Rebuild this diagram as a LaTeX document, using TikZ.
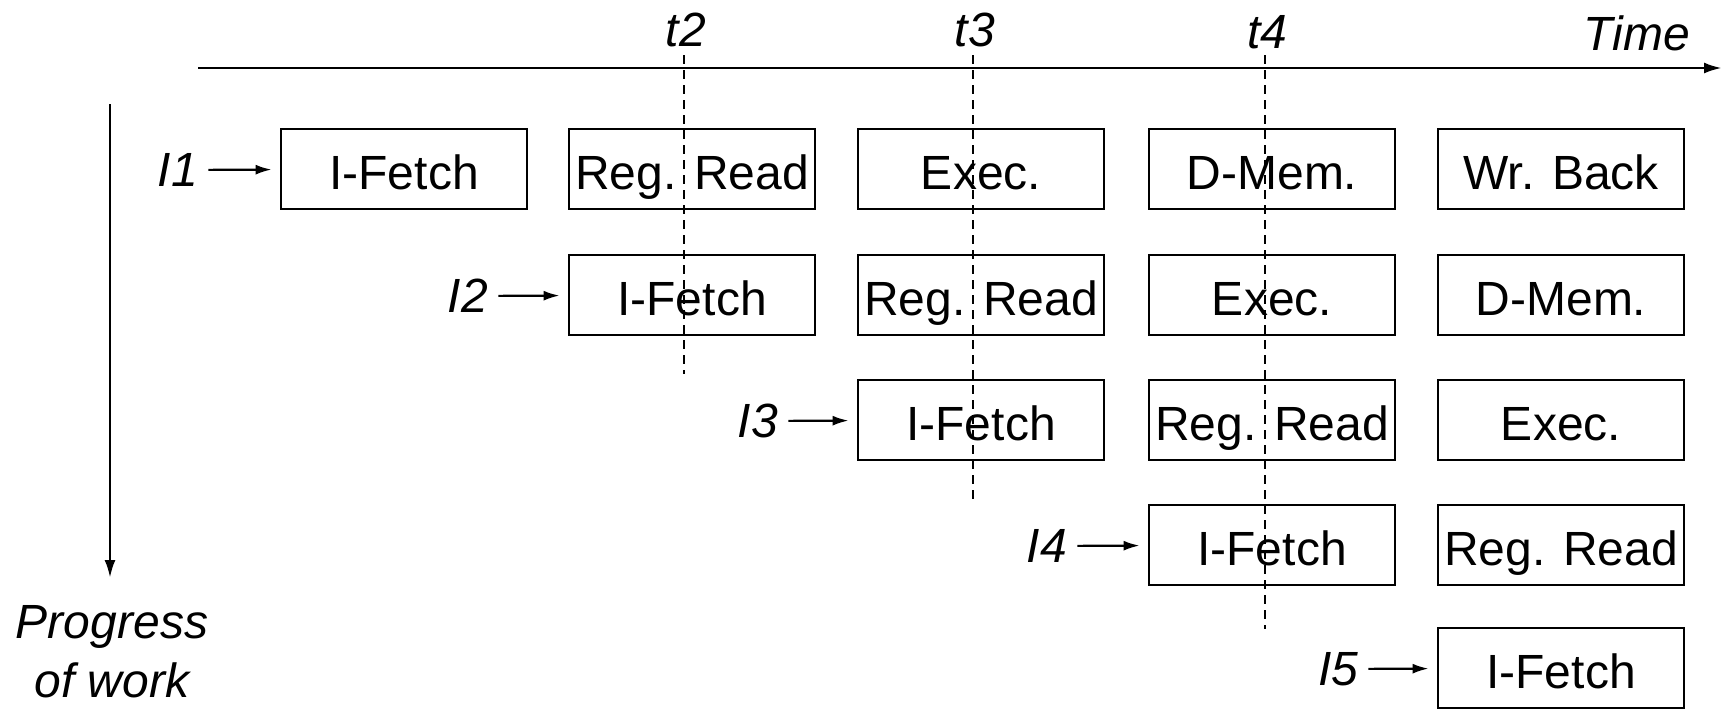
\documentclass[tikz,border=0pt]{standalone}
\usepackage{fontspec}
\setmainfont{Liberation Sans}
\usetikzlibrary{arrows.meta,calc}
\begin{document}
\begin{tikzpicture}[x=0.5pt,y=-0.5pt,
  stage/.style={draw, line width=1.4pt, minimum width=123pt, minimum height=40pt, inner sep=0pt, text height=20.4pt, text depth=0pt, font=\fontsize{24}{28}\selectfont},
  lbl/.style={font=\fontsize{24}{29.5}\selectfont\itshape, inner sep=0pt},
  tline/.style={dash pattern=on 4.5pt off 3pt, line width=1pt},
  axisline/.style={line width=1.4pt, -{Latex[length=9pt,width=5.5pt]}},
  feed/.style={line width=1.1pt, -{Latex[length=8pt,width=5pt]}, shorten <=5pt, shorten >=4pt}
]
\useasboundingbox (0,0) rectangle (1724,713);

% time axis
\coordinate (axL) at (198,68);
\coordinate (axR) at (1722,68);
\draw[axisline] (axL) -- (axR);
\node[lbl] (time) at (1637,33) {Time};
\node[lbl] (t2) at (686,30) {t2};
\node[lbl] (t3) at (975,30) {t3};
\node[lbl] (t4) at (1267,32) {t4};

% progress axis
\coordinate (pT) at (110,104);
\coordinate (pB) at (110,578);
\draw[axisline] (pT) -- (pB);
\node[lbl, align=center] (prog) at (112,652) {Progress\\of work};

% row 1
\node[stage] (r1c1) at (404,169) {I-Fetch};
\node[stage] (r1c2) at (692,169) {Reg. Read};
\node[stage] (r1c3) at (981,169) {Exec.};
\node[stage] (r1c4) at (1272,169) {D-Mem.};
\node[stage] (r1c5) at (1561,169) {Wr. Back};
% row 2
\node[stage] (r2c2) at (692,295) {I-Fetch};
\node[stage] (r2c3) at (981,295) {Reg. Read};
\node[stage] (r2c4) at (1272,295) {Exec.};
\node[stage] (r2c5) at (1561,295) {D-Mem.};
% row 3
\node[stage] (r3c3) at (981,420) {I-Fetch};
\node[stage] (r3c4) at (1272,420) {Reg. Read};
\node[stage] (r3c5) at (1561,420) {Exec.};
% row 4
\node[stage] (r4c4) at (1272,545) {I-Fetch};
\node[stage] (r4c5) at (1561,545) {Reg. Read};
% row 5
\node[stage] (r5c5) at (1561,668) {I-Fetch};

% dashed time lines
\coordinate (t2top) at (684,55);
\coordinate (t2bot) at (684,374);
\coordinate (t3top) at (973,55);
\coordinate (t3bot) at (973,503);
\coordinate (t4top) at (1265,55);
\coordinate (t4bot) at (1265,629);
\draw[tline] (t2top) -- (t2bot);
\draw[tline] (t3top) -- (t3bot);
\draw[tline] (t4top) -- (t4bot);

% instruction labels
\node[lbl] (i1) at (178,170) {I1};
\node[lbl] (i2) at (468,296) {I2};
\node[lbl] (i3) at (758,421) {I3};
\node[lbl] (i4) at (1047,546) {I4};
\node[lbl] (i5) at (1338,669) {I5};
\draw[feed] (i1) -- (r1c1);
\draw[feed] (i2) -- (r2c2);
\draw[feed] (i3) -- (r3c3);
\draw[feed] (i4) -- (r4c4);
\draw[feed] (i5) -- (r5c5);
\end{tikzpicture}
\end{document}
